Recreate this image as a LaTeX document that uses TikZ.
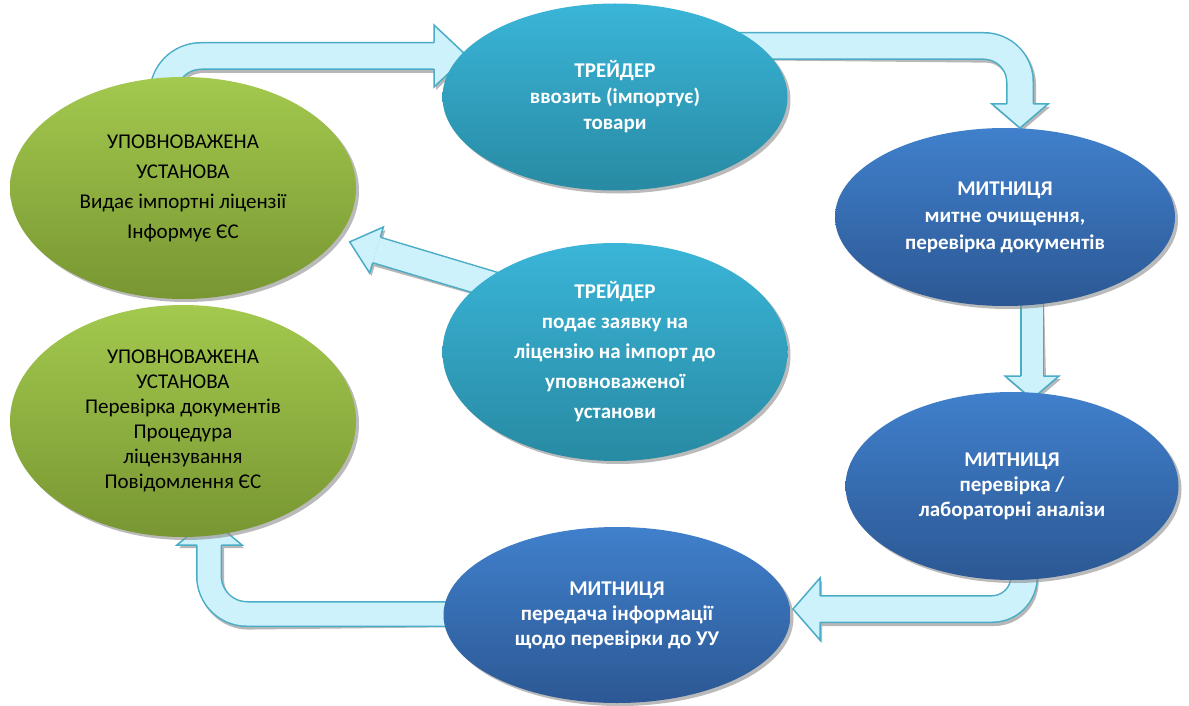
\documentclass[tikz,border=0pt]{standalone}
\usepackage{fontspec}
\setmainfont{Carlito}
\usetikzlibrary{shapes.geometric,shadows,backgrounds}

\definecolor{grtop}{RGB}{163,201,78}
\definecolor{grbot}{RGB}{120,150,50}
\definecolor{tltop}{RGB}{58,181,216}
\definecolor{tlbot}{RGB}{40,138,163}
\definecolor{bltop}{RGB}{64,128,204}
\definecolor{blbot}{RGB}{44,88,148}
\definecolor{arrfill}{RGB}{205,242,252}
\definecolor{arredge}{RGB}{75,172,198}

\tikzset{
  bubble/.style={ellipse, inner sep=0pt, align=center,
    drop shadow={shadow xshift=3pt, shadow yshift=-3pt, fill=black!45, opacity=.6}},
  ustanova/.style={bubble, top color=grtop, bottom color=grbot, text=black},
  treider/.style={bubble, top color=tltop, bottom color=tlbot, text=white},
  mytnia/.style={bubble, top color=bltop, bottom color=blbot, text=white},
  shaftshade/.style={line width=#1, draw=black!40, draw opacity=.7, shift={(2,3)}},
  shaftrim/.style={line width=#1, draw=arredge},
  shaftcore/.style={line width=#1-3pt, draw=arrfill},
  headshade/.style={fill=black!40, fill opacity=.7, shift={(2,3)}},
  headcore/.style={fill=arrfill},
  headrim/.style={draw=arredge, line width=1.5pt, line join=miter}
}

% #1 width, #2 shaft, #3 head outline (join, wing, tip, wing, join)
\newcommand{\blockarrow}[3]{%
  \draw[shaftshade=#1] #2;
  \fill[headshade] #3 -- cycle;
  \draw[shaftrim=#1] #2;
  \draw[shaftcore=#1] #2;
  \fill[headcore] #3 -- cycle;
  \draw[headrim] #3;
}

\begin{document}
\begin{tikzpicture}[x=1pt, y=-1pt]
  \useasboundingbox (0,0) rectangle (1189,706);

  % Authorised body
  \node[ustanova, minimum width=346pt, minimum height=222pt,
        font=\fontsize{21}{30}\selectfont] (ua1) at (183,188)
    {УПОВНОВАЖЕНА\\УСТАНОВА\\Видає імпортні ліцензії\\Інформує ЄС};
  \node[ustanova, minimum width=346pt, minimum height=232pt,
        font=\fontsize{21}{25}\selectfont] (ua2) at (183,421)
    {УПОВНОВАЖЕНА\\УСТАНОВА\\Перевірка документів\\Процедура\\ліцензування\\Повідомлення ЄС};

  % Trader
  \node[treider, minimum width=345pt, minimum height=187pt,
        font=\bfseries\fontsize{21}{26}\selectfont] (tr1) at (615,97)
    {ТРЕЙДЕР\\ввозить (імпортує)\\товари};
  \node[treider, minimum width=345pt, minimum height=218pt,
        font=\bfseries\fontsize{21}{30}\selectfont] (tr2) at (615,352)
    {ТРЕЙДЕР\\подає заявку на\\ліцензію на імпорт до\\уповноваженої\\установи};

  % Customs
  \node[mytnia, minimum width=340pt, minimum height=178pt,
        font=\bfseries\fontsize{21}{27}\selectfont] (cu1) at (1005,217)
    {МИТНИЦЯ\\митне очищення,\\перевірка документів};
  \node[mytnia, minimum width=333pt, minimum height=188pt,
        font=\bfseries\fontsize{21}{25}\selectfont] (cu2) at (1012,486)
    {МИТНИЦЯ\\перевірка /\\лабораторні аналізи};
  \node[mytnia, minimum width=347pt, minimum height=176pt,
        font=\bfseries\fontsize{21}{25}\selectfont] (cu3) at (617,615)
    {МИТНИЦЯ\\передача інформації\\щодо перевірки до УУ};

  % Arrows
  \begin{scope}[on background layer]
    \fill[white] (0,0) rectangle (1189,706);

    \blockarrow{28pt}{[rounded corners=38pt] ([shift={(-20,12)}]ua1.north) -- (163,56) -- (434,56)}
      {(434,42.75) -- (434,25) -- (467,56) -- (434,87) -- (434,69.25)}

    \blockarrow{28pt}{[rounded corners=36pt] ([shift={(105,-51)}]tr1.center) -- (1020,46) -- (1020,104)}
      {(1006.75,104) -- (992,104) -- (1020,128) -- (1048,104) -- (1033.25,104)}

    \blockarrow{28pt}{([shift={(-85,-56)}]tr2.center) -- (376.5,250)}
      {(380.3,237.3) -- (383.4,227) -- (349.7,241.9) -- (369.6,273) -- (372.7,262.7)}

    \blockarrow{24pt}{([shift={(27,-10)}]cu1.south) -- (1032,376)}
      {(1020.75,376) -- (1005,376) -- (1032,399) -- (1059,376) -- (1043.25,376)}

    \blockarrow{28pt}{[rounded corners=32pt] ([shift={(12,-15)}]cu2.south) -- (1024,609) -- (820,609)}
      {(820,595.75) -- (820,578) -- (793,609) -- (820,640) -- (820,622.25)}

    \blockarrow{26pt}{[rounded corners=38pt] ([shift={(27,-1)}]cu3.west) -- (209,614) -- (209,545)}
      {(196.75,545) -- (177,545) -- (209.5,518) -- (242,545) -- (221.25,545)}
  \end{scope}
\end{tikzpicture}
\end{document}
